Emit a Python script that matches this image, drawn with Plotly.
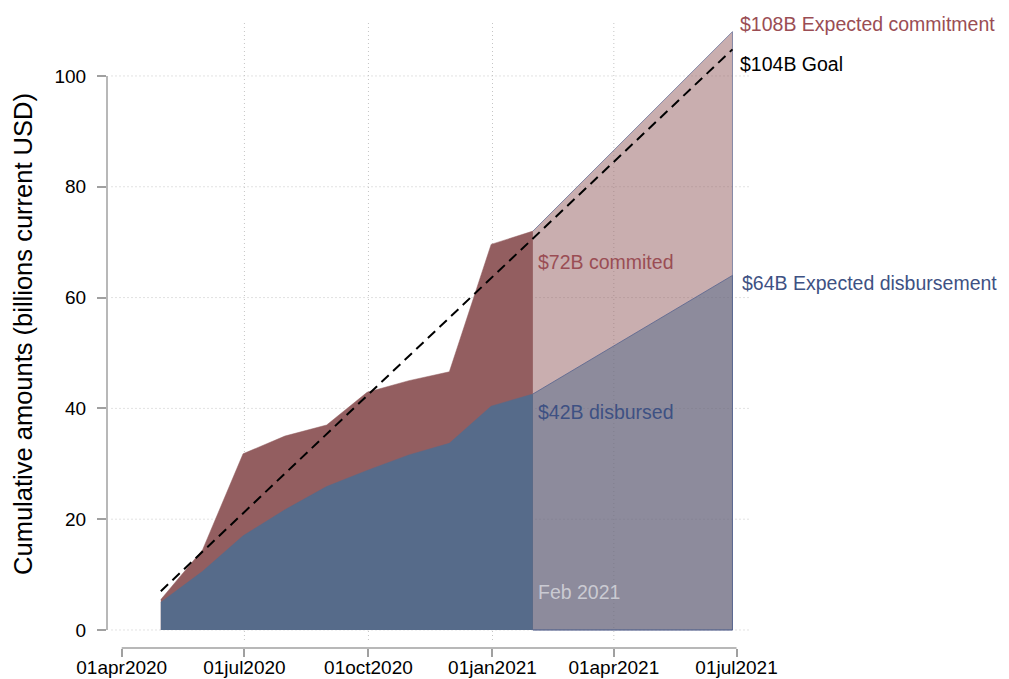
import plotly.graph_objects as go

# ---------------- data ----------------
actual_dates = ['2020-04-30', '2020-05-31', '2020-06-30', '2020-07-31', '2020-08-31',
                '2020-09-30', '2020-10-31', '2020-11-30', '2020-12-31', '2021-01-31']
committed = [5.5, 14.5, 31.8, 35.0, 37.0, 42.9, 45.0, 46.6, 69.6, 72.0]
disbursed = [5.0, 10.6, 17.0, 21.7, 25.9, 28.8, 31.6, 33.7, 40.4, 42.6]

proj_dates = ['2021-01-31', '2021-06-28']
committed_proj = [72.0, 108.0]
disbursed_proj = [42.6, 64.0]

goal_dates = ['2020-04-30', '2021-06-28']
goal = [7.0, 104.8]

x_ticks = ['2020-04-01', '2020-07-01', '2020-10-01', '2021-01-01', '2021-04-01', '2021-07-01']
x_labels = ['01apr2020', '01jul2020', '01oct2020', '01jan2021', '01apr2021', '01jul2021']
y_ticks = [0, 20, 40, 60, 80, 100]

RED = '#935e60'
BLUE = '#566b8a'
FONT = 'Liberation Sans, Arial, Helvetica, sans-serif'

fig = go.Figure()

# projected commitment (translucent)
fig.add_trace(go.Scatter(
    x=proj_dates + proj_dates[::-1], y=committed_proj + [0, 0],
    fill='toself', fillcolor='rgba(147,94,96,0.5)', mode='lines',
    line=dict(color='rgba(100,110,150,0.75)', width=1), hoverinfo='skip', showlegend=False))
# projected disbursement (translucent)
fig.add_trace(go.Scatter(
    x=proj_dates + proj_dates[::-1], y=disbursed_proj + [0, 0],
    fill='toself', fillcolor='rgba(86,107,138,0.52)', mode='lines',
    line=dict(color='rgba(80,95,140,0.75)', width=1), hoverinfo='skip', showlegend=False))
# actual committed
fig.add_trace(go.Scatter(
    x=actual_dates, y=committed, fill='tozeroy', fillcolor=RED, mode='lines',
    line=dict(color=RED, width=0.5), showlegend=False))
# actual disbursed
fig.add_trace(go.Scatter(
    x=actual_dates, y=disbursed, fill='tozeroy', fillcolor=BLUE, mode='lines',
    line=dict(color=BLUE, width=0.5), showlegend=False))
# goal
fig.add_trace(go.Scatter(
    x=goal_dates, y=goal, mode='lines',
    line=dict(color='black', width=2, dash='10px,6px'), showlegend=False))

shapes = []
GRID = dict(color='#c4c4c4', width=1, dash='1px,3px')
for yv in y_ticks:
    shapes.append(dict(type='line', xref='paper', yref='y', x0=0.007, x1=1, y0=yv, y1=yv,
                       line=GRID, layer='below'))
for xv in x_ticks[1:-1]:
    shapes.append(dict(type='line', xref='x', yref='paper', x0=xv, x1=xv, y0=0.0127, y1=1,
                       line=GRID, layer='below'))
# axis lines
AX = dict(color='#a0a0a0', width=1.5)
shapes.append(dict(type='line', xref='paper', yref='y', x0=0, x1=0,
                   y0=y_ticks[0], y1=y_ticks[-1], line=AX))
shapes.append(dict(type='line', xref='x', yref='paper', x0=x_ticks[0], x1=x_ticks[-1],
                   y0=0, y1=0, line=AX))

C_RED_TXT = '#9a4d54'
C_BLUE_TXT = '#3e5183'
anns = [
    dict(x=proj_dates[0], y=66.4, text='$72B commited', color=C_RED_TXT, xshift=3),
    dict(x=proj_dates[0], y=39.4, text='$42B disbursed', color=C_BLUE_TXT, xshift=3),
    dict(x=proj_dates[0], y=6.9, text='Feb 2021', color='#cacad2', xshift=3),
    dict(x=proj_dates[1], y=109.3, text='$108B Expected commitment', color=C_RED_TXT, xshift=6),
    dict(x=proj_dates[1], y=102.2, text='$104B Goal', color='black', xshift=6),
    dict(x=proj_dates[1], y=62.6, text='$64B Expected disbursement', color=C_BLUE_TXT, xshift=8),
]
annotations = []
for a in anns:
    annotations.append(dict(x=a['x'], y=a['y'], xref='x', yref='y', text=a['text'],
                            showarrow=False, xanchor='left', yanchor='middle',
                            xshift=a['xshift'],
                            font=dict(family=FONT, size=19.5, color=a['color'])))

# page body has an 8px default margin: size/margins compensate for it
fig.update_layout(
    width=1001, height=671,
    margin=dict(l=99, r=259, t=12, b=31, autoexpand=False),
    paper_bgcolor='white', plot_bgcolor='white',
    font=dict(family=FONT, color='black'),
    shapes=shapes, annotations=annotations,
    xaxis=dict(type='date', range=['2020-03-21 02:00', '2021-07-11'], automargin=False,
               tickvals=x_ticks, ticktext=x_labels, ticks='outside', ticklen=8,
               tickcolor='#a0a0a0', tickwidth=1.5, showgrid=False, showline=False,
               zeroline=False, tickfont=dict(size=19, color='black'),
               ticklabelstandoff=-6),
    yaxis=dict(range=[-3.25, 110.1], tickvals=y_ticks, ticks='outside', ticklen=9,
               automargin=False,
               tickcolor='#a0a0a0', tickwidth=1.5, showgrid=False, showline=False,
               zeroline=False, tickfont=dict(size=19, color='black'), ticklabelstandoff=7,
               title=dict(text='Cumulative amounts (billions current USD)',
                          font=dict(size=25.5, color='black'), standoff=14)),
)

fig.write_html('out.html')
